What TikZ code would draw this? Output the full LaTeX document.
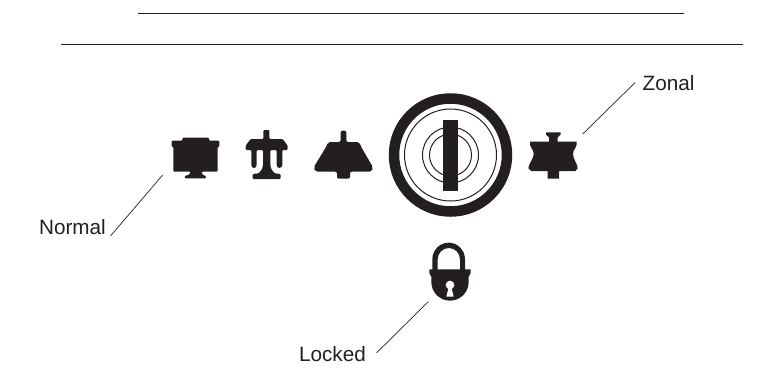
\documentclass[tikz,border=0pt]{standalone}
\usepackage{fontspec}
\setmainfont{Liberation Sans}
\definecolor{ink}{HTML}{231F20}
\tikzset{
  rule/.style={draw=ink,line width=1pt},
  leader/.style={draw=ink,line width=0.7pt},
  icon/.style={fill=ink,draw=none,rounded corners=1pt},
  lab/.style={font=\fontsize{20.7}{22}\selectfont,text=ink,inner sep=0pt}
}
\begin{document}
\begin{tikzpicture}[x=1pt,y=-1pt]
\useasboundingbox (0,0) rectangle (773,376);
% rules
\coordinate (r1a) at (138,13); \coordinate (r1b) at (684,13);
\coordinate (r2a) at (61,44); \coordinate (r2b) at (743,44);
\draw[rule] (r1a) -- (r1b);
\draw[rule] (r2a) -- (r2b);
% labels
\node[lab,anchor=base east] (normal) at (106,234.3) {Normal};
\node[lab,anchor=base west] (zonal) at (642.5,90) {Zonal};
\node[lab,anchor=base east] (locked) at (366,361) {Locked};
\coordinate (nl) at (110.7,235.7); \coordinate (nt) at (162.7,175);
\coordinate (zl) at (582.7,134); \coordinate (zt) at (635,82.7);
\coordinate (ll) at (376.7,352.7); \coordinate (lt) at (428.3,301.7);
\draw[leader] (nl) -- (nt);
\draw[leader] (zl) -- (zt);
\draw[leader] (ll) -- (lt);
% normal icon
\begin{scope}[shift={(150,110)},xscale=1/3,yscale=1/3]
\fill[icon] (97,83) -- (177,83) -- (177,92) -- (208,92) -- (208,110) -- (203,110) -- (203,185) -- (155,185) -- (157,194) -- (168,198) -- (168,205) -- (104,205) -- (104,198) -- (118,194) -- (122,185) -- (70,185) -- (70,110) -- (65,110) -- (65,92) -- (97,92) -- cycle;
\end{scope}
% trident icon
\begin{scope}[shift={(150,110)},xscale=1/3,yscale=1/3]
\fill[icon] (340,60) -- (358,60) -- (358,87) -- (398,87) -- (413,107) -- (413,120) -- (397,120) -- (397,168) -- (391,174) -- (385,174) -- (380,168) -- (380,120) -- (361,120) -- (361,165) -- (364,178) -- (374,190) -- (392,192) -- (392,207) -- (308,207) -- (308,192) -- (326,190) -- (336,178) -- (339,165) -- (339,120) -- (320,120) -- (320,168) -- (315,174) -- (309,174) -- (304,168) -- (304,120) -- (287,120) -- (287,107) -- (302,87) -- (340,87) -- cycle;
\end{scope}
% bell icon
\begin{scope}[shift={(150,110)},xscale=1/3,yscale=1/3]
\fill[icon,rounded corners=2pt] (572,62) -- (589,62) -- (589,96) -- (628,96) -- (632,108) -- (669,172) -- (665,185) -- (600,185) -- (600,206) -- (561,206) -- (561,185) -- (496,185) -- (491,172) -- (530,108) -- (534,96) -- (572,96) -- cycle;
\end{scope}
% key
\node[circle,draw=ink,line width=10.5pt,minimum size=113pt,inner sep=0pt] (ring) at (450.5,155) {};
\node[circle,draw=ink,line width=1pt,minimum size=92pt,inner sep=0pt] (c1) at (450.5,155) {};
\node[circle,draw=ink,line width=1pt,minimum size=56pt,inner sep=0pt] (c2) at (450.5,155) {};
\node[circle,draw=ink,line width=1pt,minimum size=42pt,inner sep=0pt] (c3) at (450.5,155) {};
\fill[ink] (443,120) rectangle (458,191);
% zonal icon
\begin{scope}[shift={(390,90)},xscale=1/3,yscale=1/3]
\fill[ink] (468,127) -- (512,127) -- (512,134) -- (503,142) -- (503,155) -- (560,155) -- (560,163) .. controls (558,175) and (549,180) .. (549,192) .. controls (549,207) and (563,222) .. (563,235) -- (556,243) -- (507,243) -- (507,266) -- (473,266) -- (473,243) -- (424,243) -- (415,235) .. controls (415,222) and (431,207) .. (431,192) .. controls (431,180) and (422,175) .. (420,163) -- (420,155) -- (477,155) -- (477,142) -- (468,134) -- cycle;
\end{scope}
% lock
\begin{scope}[shift={(410,230)},xscale=1/3,yscale=1/3]
\fill[ink] (67,120) -- (67,88) arc[start angle=180,end angle=360,x radius=49,y radius=50] -- (165,120) -- (150,120) -- (150,88) arc[start angle=360,end angle=180,x radius=33.5,y radius=34] -- (83,120) -- cycle;
\fill[ink] (58,118) -- (182,118) -- (182,130) -- (176,140) -- (176,156) arc[start angle=0,end angle=180,x radius=56,y radius=56] -- (64,140) -- (58,130) -- cycle;
\fill[white] (120,165) circle[radius=13];
\fill[white] (116,172) -- (124,172) -- (131,200) -- (109,200) -- cycle;
\end{scope}
\end{tikzpicture}
\end{document}
